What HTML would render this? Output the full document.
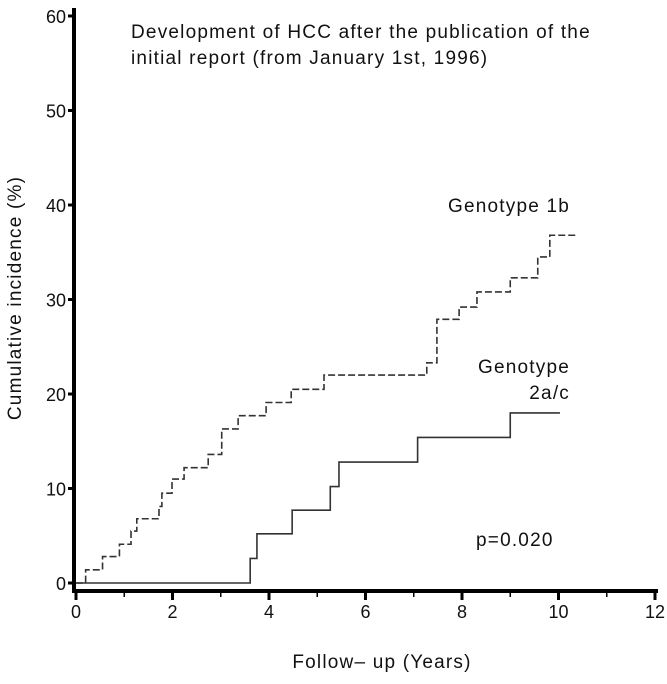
<!DOCTYPE html>
<html><head><meta charset="utf-8"><style>
body{margin:0;background:#fff}
svg text{font-family:"Liberation Sans",sans-serif;fill:#111}
.w{letter-spacing:1.2px}
</style></head><body>
<svg id="c" width="667" height="679"></svg>
<script>
const xTicks=[0,2,4,6,8,10,12];
const yTicks=[0,10,20,30,40,50,60];
const g1bTimes=[0,0.2,0.55,0.9,1.14,1.26,1.72,1.78,1.99,2.24,2.74,3.02,3.36,3.94,4.46,5.14,7.27,7.48,7.94,8.31,9.0,9.57,9.82,10.4];
const g1bValues=[0,1.4,2.8,4.1,5.5,6.8,8.1,9.5,11,12.2,13.6,16.3,17.7,19.1,20.5,22,23.3,27.9,29.2,30.8,32.3,34.5,36.8,36.8];
const g2Times=[0,3.61,3.75,4.48,5.27,5.45,7.08,9.0,10.03];
const g2Values=[0,2.6,5.2,7.7,10.2,12.8,15.4,18,18];
const NS="http://www.w3.org/2000/svg";
const svg=document.getElementById('c');
const X=t=>76+t*48.25, Y=v=>583-v*9.45;
function mk(tag,attrs,txt){const e=document.createElementNS(NS,tag);for(const k in attrs)e.setAttribute(k,attrs[k]);if(txt!==undefined)e.textContent=txt;svg.appendChild(e);return e;}
let e;
e=mk('line',{x1:74,y1:8,x2:74,y2:593,stroke:'#000','stroke-width':4});


e=mk('line',{x1:72,y1:591,x2:658,y2:591,stroke:'#000','stroke-width':4});


yTicks.forEach(v=>{
  e=mk('line',{x1:68,y1:Y(v),x2:74,y2:Y(v),stroke:'#000','stroke-width':3});
  
  
  e=mk('text',{x:66,y:Y(v)+7,'text-anchor':'end','font-size':18},String(v));
  
  
});
for(let t=0;t<=12;t+=1){
  e=mk('line',{x1:X(t),y1:591,x2:X(t),y2:t%2?597:600,stroke:'#000','stroke-width':t%2?1.5:3});
  
  
}
xTicks.forEach(t=>{
  e=mk('text',{x:X(t),y:618,'text-anchor':'middle','font-size':18},String(t));
  
  
});
function stepPath(ts,vs){let d='M'+X(ts[0])+','+Y(vs[0]);for(let i=1;i<ts.length;i++){d+=' H'+X(ts[i])+' V'+Y(vs[i]);}return d;}
e=mk('path',{d:stepPath(g1bTimes,g1bValues),fill:'none',stroke:'#333','stroke-width':1.6,'stroke-dasharray':'7,3'});


e=mk('path',{d:stepPath(g2Times,g2Values),fill:'none',stroke:'#333','stroke-width':1.6});


e=mk('text',{x:131,y:38,'font-size':19,class:'w'},'Development of HCC after the publication of the');


e=mk('text',{x:131,y:64,'font-size':19,class:'w'},'initial report (from January 1st, 1996)');


e=mk('text',{x:448,y:212,'font-size':19,class:'w'},'Genotype 1b');


e=mk('text',{x:570,y:373,'text-anchor':'end','font-size':19,class:'w'},'Genotype');


e=mk('text',{x:570,y:399,'text-anchor':'end','font-size':19,class:'w'},'2a/c');


e=mk('text',{x:476,y:546,'font-size':19,class:'w'},'p=0.020');


e=mk('text',{x:382,y:668,'text-anchor':'middle','font-size':19,class:'w'},'Follow\u2013 up (Years)');


e=mk('text',{x:0,y:0,'text-anchor':'middle','font-size':19,class:'w',transform:'translate(21,298) rotate(-90)'},'Cumulative incidence (%)');


</script>
</body></html>
